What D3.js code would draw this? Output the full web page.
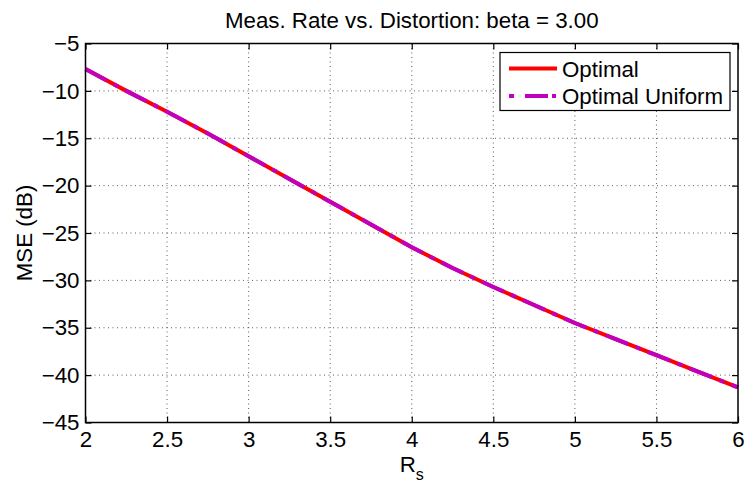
<!DOCTYPE html>
<html>
<head>
<meta charset="utf-8">
<script src="https://cdn.jsdelivr.net/npm/d3@7"></script>
<style>
  body { margin: 0; background: #fff; }
  svg text { font-family: "Liberation Sans", Arial, Helvetica, sans-serif; fill: #000; }
</style>
</head>
<body>
<svg id="chart" width="747" height="485"></svg>
<script>
// values
var rates = [2, 2.25, 2.5, 2.75, 3, 3.25, 3.5, 3.75, 4, 4.25, 4.5, 4.75, 5, 5.25, 5.5, 5.75, 6];
var optimal = [-7.7, -10.0, -12.2, -14.5, -16.9, -19.3, -21.7, -24.1, -26.5, -28.7, -30.7, -32.6, -34.5, -36.2, -37.9, -39.6, -41.3];
var optimalUniform = [-7.7, -10.0, -12.2, -14.5, -16.9, -19.3, -21.7, -24.1, -26.5, -28.7, -30.7, -32.6, -34.5, -36.2, -37.9, -39.6, -41.3];
var xTicks = [2, 2.5, 3, 3.5, 4, 4.5, 5, 5.5, 6];
var yTicks = [-45, -40, -35, -30, -25, -20, -15, -10, -5];
var seriesNames = ["Optimal", "Optimal Uniform"];

var margin = {top: 43.5, right: 9, bottom: 62.5, left: 85.5};
var width = 747 - margin.left - margin.right;
var height = 485 - margin.top - margin.bottom;
var fontSize = 22.3;

var x = d3.scaleLinear().domain([2, 6]).range([0, width]);
var y = d3.scaleLinear().domain([-45, -5]).range([height, 0]);

var svg = d3.select('#chart');
var g = svg.append('g')
    .attr('transform', 'translate(' + margin.left + ',' + margin.top + ')');

// grid
g.append('g').selectAll('line')
    .data(xTicks.slice(1, -1))
    .enter().append('line')
    .attr('x1', function(d) { return x(d); })
    .attr('x2', function(d) { return x(d); })
    .attr('y1', 0).attr('y2', height)
    .attr('stroke', '#333').attr('stroke-width', 0.8)
    .attr('stroke-dasharray', '1,3.5');
g.append('g').selectAll('line')
    .data(yTicks.slice(1, -1))
    .enter().append('line')
    .attr('y1', function(d) { return y(d); })
    .attr('y2', function(d) { return y(d); })
    .attr('x1', 0).attr('x2', width)
    .attr('stroke', '#333').attr('stroke-width', 0.8)
    .attr('stroke-dasharray', '1,3.5');

// lines
var line = d3.line()
    .x(function(d) { return x(d[0]); })
    .y(function(d) { return y(d[1]); });

g.append('path')
    .datum(d3.zip(rates, optimal))
    .attr('fill', 'none')
    .attr('stroke', '#ff0000')
    .attr('stroke-width', 4)
    .attr('d', line);

g.append('path')
    .datum(d3.zip(rates, optimalUniform))
    .attr('fill', 'none')
    .attr('stroke', '#bf00bf')
    .attr('stroke-width', 4)
    .attr('stroke-dasharray', '24,8,5,8')
    .attr('d', line);

// axes (inward ticks, box)
var tickLen = 6;
g.append('g')
    .attr('transform', 'translate(0,' + height + ')')
    .call(d3.axisBottom(x).tickValues(xTicks).tickSizeInner(-tickLen).tickSizeOuter(0).tickPadding(9)
        .tickFormat(d3.format('')))
    .call(function(a) {
        a.select('.domain').remove();
        a.selectAll('text').attr('font-size', fontSize);
        a.selectAll('line').attr('stroke-width', 1.2);
    });
g.append('g')
    .call(d3.axisLeft(y).tickValues(yTicks).tickSizeInner(-tickLen).tickSizeOuter(0).tickPadding(6)
        .tickFormat(function(d) { return d3.format('')(d).replace('-', '\u2212'); }))
    .call(function(a) {
        a.select('.domain').remove();
        a.selectAll('text').attr('font-size', fontSize);
        a.selectAll('line').attr('stroke-width', 1.2);
    });
g.append('g')
    .call(d3.axisTop(x).tickValues(xTicks).tickSizeInner(-tickLen).tickSizeOuter(0).tickFormat(''))
    .call(function(a) { a.select('.domain').remove(); a.selectAll('line').attr('stroke-width', 1.2); });
g.append('g')
    .attr('transform', 'translate(' + width + ',0)')
    .call(d3.axisRight(y).tickValues(yTicks).tickSizeInner(-tickLen).tickSizeOuter(0).tickFormat(''))
    .call(function(a) { a.select('.domain').remove(); a.selectAll('line').attr('stroke-width', 1.2); });

g.append('rect')
    .attr('x', 0).attr('y', 0)
    .attr('width', width).attr('height', height)
    .attr('fill', 'none')
    .attr('stroke', '#000')
    .attr('stroke-width', 1.5);

// title and labels
svg.append('text')
    .attr('x', margin.left + width / 2)
    .attr('y', 28)
    .attr('text-anchor', 'middle')
    .attr('font-size', fontSize)
    .text('Meas. Rate vs. Distortion: beta = 3.00');

svg.append('text')
    .attr('transform', 'translate(32,' + (margin.top + height / 2) + ') rotate(-90)')
    .attr('text-anchor', 'middle')
    .attr('font-size', fontSize)
    .text('MSE (dB)');

var xl = svg.append('text')
    .attr('x', margin.left + width / 2)
    .attr('y', 472)
    .attr('text-anchor', 'middle')
    .attr('font-size', fontSize);
xl.append('tspan').text('R');
xl.append('tspan').attr('font-size', 16).attr('dy', 8).text('s');

// legend
var legend = svg.append('g').attr('transform', 'translate(500,52.5)');
legend.append('rect')
    .attr('width', 230).attr('height', 58)
    .attr('fill', '#fff').attr('stroke', '#000').attr('stroke-width', 1.2);
var styles = [
    {color: '#ff0000', dash: null},
    {color: '#bf00bf', dash: '5,11,23,4,4'}
];
seriesNames.forEach(function(name, i) {
    var yy = 16 + i * 27.5;
    legend.append('line')
        .attr('x1', 9).attr('x2', 57)
        .attr('y1', yy).attr('y2', yy)
        .attr('stroke', styles[i].color)
        .attr('stroke-width', 4)
        .attr('stroke-dasharray', styles[i].dash);
    legend.append('text')
        .attr('x', 62).attr('y', yy + 8)
        .attr('font-size', fontSize)
        .text(name);
});
</script>
</body>
</html>
